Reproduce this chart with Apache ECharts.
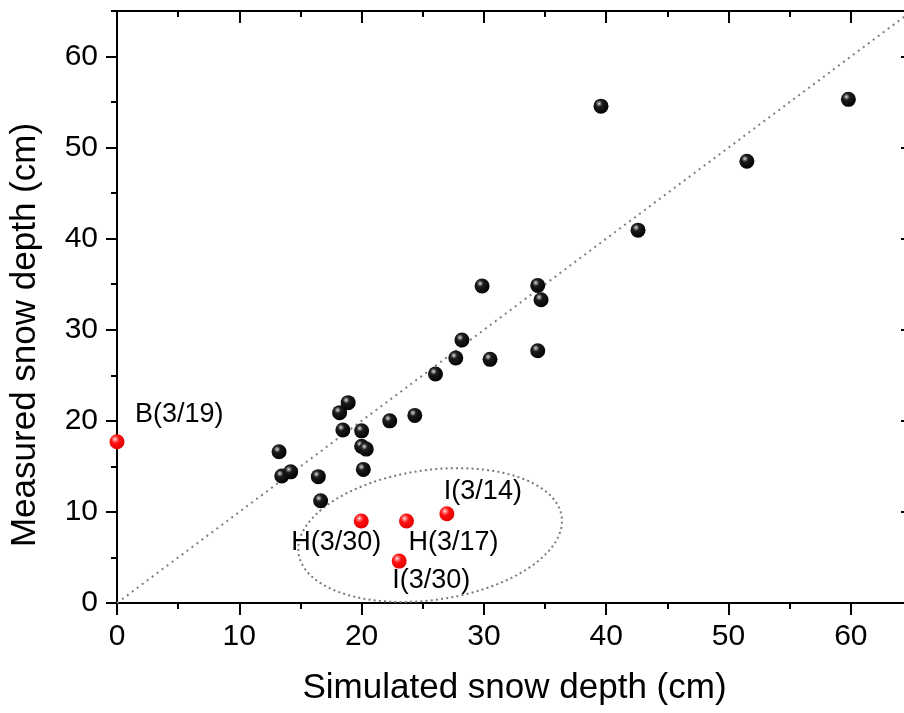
<!DOCTYPE html>
<html><head><meta charset="utf-8">
<script src="https://cdn.jsdelivr.net/npm/echarts@6/dist/echarts.min.js"></script>
<style>html,body{margin:0;padding:0;background:#fff;overflow:hidden;width:904px;height:713px}#c{width:912px;height:713px}</style>
</head><body><div id="c"></div>
<script>
// ---- data ----
const blackX = [13.25, 13.47, 14.2, 16.46, 16.65, 18.2, 18.9, 18.47, 20.0, 20.0, 20.38, 20.14, 22.3, 24.35, 26.04, 27.7, 28.2, 30.5, 29.85, 34.4, 34.67, 34.4, 39.57, 42.6, 51.5, 59.8];
const blackY = [16.6, 13.94, 14.4, 13.87, 11.23, 20.9, 22.0, 19.0, 18.9, 17.2, 16.9, 14.67, 20.0, 20.6, 25.14, 26.9, 28.87, 26.75, 34.8, 34.87, 33.3, 27.7, 54.55, 40.94, 48.5, 55.3];
const redNames = ['B(3/19)', 'H(3/30)', 'H(3/17)', 'I(3/14)', 'I(3/30)'];
const redX = [0, 19.97, 23.67, 26.97, 23.07];
const redY = [17.7, 9.0, 9.0, 9.8, 4.6];
const lineX = [0, 65];
const lineY = [0, 65];
const axisMin = 0, axisMax = 65;
const majorTicks = [0, 10, 20, 30, 40, 50, 60];
const minorTicks = [5, 15, 25, 35, 45, 55, 65];
const xTitle = 'Simulated snow depth (cm)';
const yTitle = 'Measured snow depth (cm)';
// ellipse annotation (data units): center, semi-axes, tilt
const ellCenter = [25.6, 7.46];
const ellSemi = [10.86, 7.13];
const ellTiltDeg = 8;

// ---- styles ----
const FONT = 'Liberation Sans, Arial, sans-serif';
const labelOffsets = [[18, -27], [-70, 22], [2, 22], [-3, -22], [-7, 19]];
const blackBall = {type: 'radial', x: 0.37, y: 0.33, r: 0.7, colorStops: [
  {offset: 0, color: '#e6e6e6'}, {offset: 0.12, color: '#8c8c8c'}, {offset: 0.32, color: '#1c1c1c'}, {offset: 1, color: '#000'}]};
const redBall = {type: 'radial', x: 0.37, y: 0.33, r: 0.7, colorStops: [
  {offset: 0, color: '#ffecec'}, {offset: 0.15, color: '#ff8080'}, {offset: 0.4, color: '#ff1010'}, {offset: 1, color: '#e00000'}]};

function axis(pos, kind, isX) {
  const major = kind === 'major';
  const inside = pos === 'top' || pos === 'right';
  const showLabel = major && !inside;
  const a = {
    type: 'value', position: pos, min: axisMin, max: axisMax, interval: 10,
    axisLine: {show: true, onZero: false, lineStyle: {color: '#000', width: 2}},
    axisTick: {show: true, inside: inside, length: major ? (isX ? 12 : 11) : 6,
      customValues: major ? majorTicks : minorTicks, lineStyle: {color: '#000', width: 2}},
    minorTick: {show: false},
    splitLine: {show: false},
    axisLabel: showLabel ? {show: true, customValues: majorTicks, color: '#000', fontSize: 30, fontFamily: FONT,
      margin: 19} : {show: false}
  };
  if (showLabel) {
    a.name = isX ? xTitle : yTitle;
    a.nameLocation = 'middle';
    a.nameGap = isX ? 68 : 74;
    a.nameTextStyle = {color: '#000', fontSize: 35, fontFamily: FONT,
      padding: isX ? 0 : [0, 56, 0, 0]};
  }
  return a;
}

const chart = echarts.init(document.getElementById('c'), null, {renderer: 'canvas', width: 912, height: 713});
chart.setOption({
  backgroundColor: '#fff',
  animation: false,
  grid: {left: 116, top: 11, right: 0, bottom: 110, containLabel: false},
  xAxis: [axis('bottom', 'major', true), axis('bottom', 'minor', true), axis('top', 'major', true), axis('top', 'minor', true)],
  yAxis: [axis('left', 'major', false), axis('left', 'minor', false), axis('right', 'major', false), axis('right', 'minor', false)],
  series: [
    {type: 'line', xAxisIndex: 0, yAxisIndex: 0, data: lineX.map((x, i) => [x, lineY[i]]), symbol: 'none', silent: true, z: 1,
      lineStyle: {color: '#7f7f7f', width: 2, type: [2, 4.2]}},
    {type: 'custom', xAxisIndex: 0, yAxisIndex: 0, coordinateSystem: 'cartesian2d', silent: true, z: 1,
      data: [[ellCenter[0], ellCenter[1]]],
      renderItem: function (params, api) {
        const c = api.coord([api.value(0), api.value(1)]);
        const a = api.size([ellSemi[0], 0])[0];
        const b = api.size([0, ellSemi[1]])[1];
        const th = ellTiltDeg * Math.PI / 180;
        const pts = [];
        for (let k = 0; k <= 180; k++) {
          const t = k / 180 * 2 * Math.PI;
          const u = a * Math.cos(t), v = b * Math.sin(t);
          pts.push([c[0] + u * Math.cos(th) + v * Math.sin(th), c[1] - u * Math.sin(th) + v * Math.cos(th)]);
        }
        return {type: 'polyline', shape: {points: pts},
          style: {fill: null, stroke: '#7a7a7a', lineWidth: 2, lineDash: [2, 3.2]}};
      }},
    {type: 'scatter', xAxisIndex: 0, yAxisIndex: 0, symbol: 'circle', symbolSize: 15, z: 3,
      data: blackX.map((x, i) => [x, blackY[i]]),
      itemStyle: {color: blackBall, opacity: 1}},
    {type: 'scatter', xAxisIndex: 0, yAxisIndex: 0, symbol: 'circle', symbolSize: 15, z: 4,
      data: redX.map((x, i) => ({name: redNames[i], value: [x, redY[i]],
        label: {offset: labelOffsets[i]}})),
      label: {show: true, formatter: '{b}', position: 'inside', align: 'left', verticalAlign: 'middle',
        color: '#000', textBorderWidth: 0, opacity: 1, fontSize: 27, fontFamily: FONT},
      itemStyle: {color: redBall, opacity: 1}}
  ]
});
</script>
</body></html>
